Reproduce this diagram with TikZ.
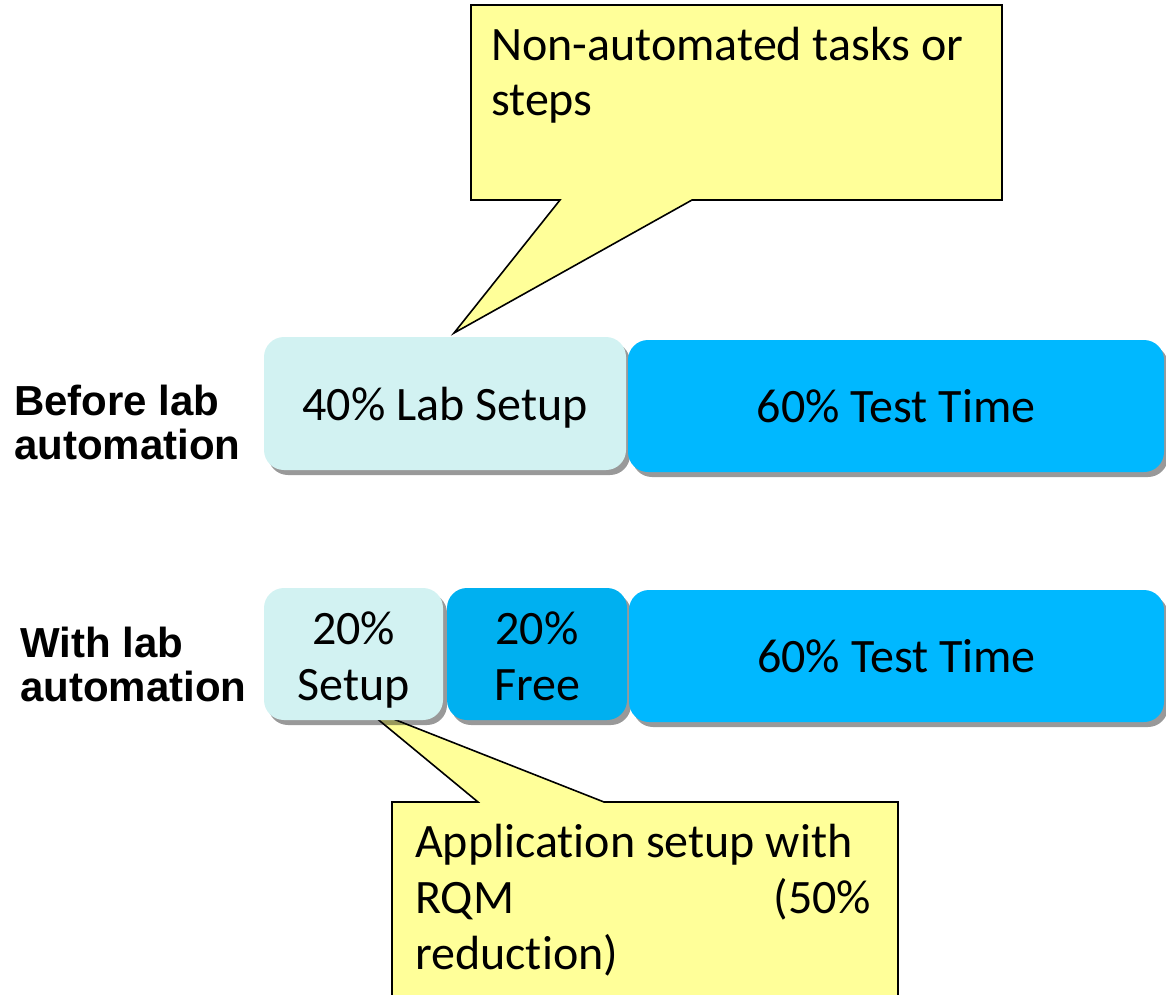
\documentclass[tikz,border=0pt]{standalone}
\usepackage{fontspec}
\setmainfont{Carlito}[Ligatures=NoCommon]
\newfontfamily\rowfont{Liberation Sans}
\usetikzlibrary{shadows}
\definecolor{setupcol}{RGB}{210,242,242}
\definecolor{testcol}{RGB}{0,184,255}
\definecolor{freecol}{RGB}{0,176,240}
\definecolor{notecol}{RGB}{255,255,153}
\newcommand{\twoline}[2]{\raisebox{-7pt}[\height][\depth]{\begin{tabular}{@{}c@{}}#1\\#2\end{tabular}}}
\tikzset{
  bar/.style={rounded corners=20pt, inner sep=0pt, align=flush center,
    drop shadow={shadow xshift=4pt, shadow yshift=-5pt, fill=black, opacity=0.4},
    font=\fontsize{48}{56}\selectfont},
  note/.style={fill=notecol, draw=black, line width=1.6pt, line join=miter},
  notetext/.style={anchor=base west, inner sep=0pt, align=flush left},
  rowlabel/.style={anchor=west, inner sep=0pt, align=flush left,
    font=\rowfont\bfseries\fontsize{42}{44}\selectfont},
}
\begin{document}
\begin{tikzpicture}[x=1pt, y=-1pt]
\clip (0,0) rectangle (1166,994);
\useasboundingbox (0,0) rectangle (1166,994);
% callout below, behind the bars
\coordinate (bottip) at (363,707);
\draw[note] (392,802) -- (478,802) -- (bottip) -- (604,802) -- (898,802) -- (898,1010) -- (392,1010) -- cycle;
\node[notetext, text width=456pt, font=\fontsize{48}{56}\selectfont] (botnote) at (415,857){Application setup with\\RQM\hfill(50\%\\reduction)};
% before lab automation
\node[rowlabel] (before) at (14,422){Before lab\\automation};
\node[bar, fill=setupcol, minimum width=362pt, minimum height=133pt, text depth=0pt] (labsetup) at (445,403.5){40\% Lab Setup};
\node[bar, fill=testcol, minimum width=536pt, minimum height=132pt] (testtop) at (896,406){60\% Test Time};
% with lab automation
\node[rowlabel] (with) at (20,664){With lab\\automation};
\node[bar, fill=setupcol, minimum width=179pt, minimum height=132pt] (setup) at (353.5,654){\twoline{20\%}{Setup}};
\node[bar, fill=freecol, minimum width=180pt, minimum height=132pt] (free) at (537,654){\twoline{20\%}{Free}};
\node[bar, fill=testcol, minimum width=535pt, minimum height=132pt] (testbot) at (896.5,656){60\% Test Time};
% callout above
\coordinate (toptip) at (454,333);
\draw[note] (471,5) -- (1002,5) -- (1002,200) -- (692,200) -- (toptip) -- (560,200) -- (471,200) -- cycle;
\node[notetext, text width=500pt, font=\fontsize{48}{55}\selectfont] (topnote) at (491,60){Non-automated tasks or\\steps};
\end{tikzpicture}
\end{document}
